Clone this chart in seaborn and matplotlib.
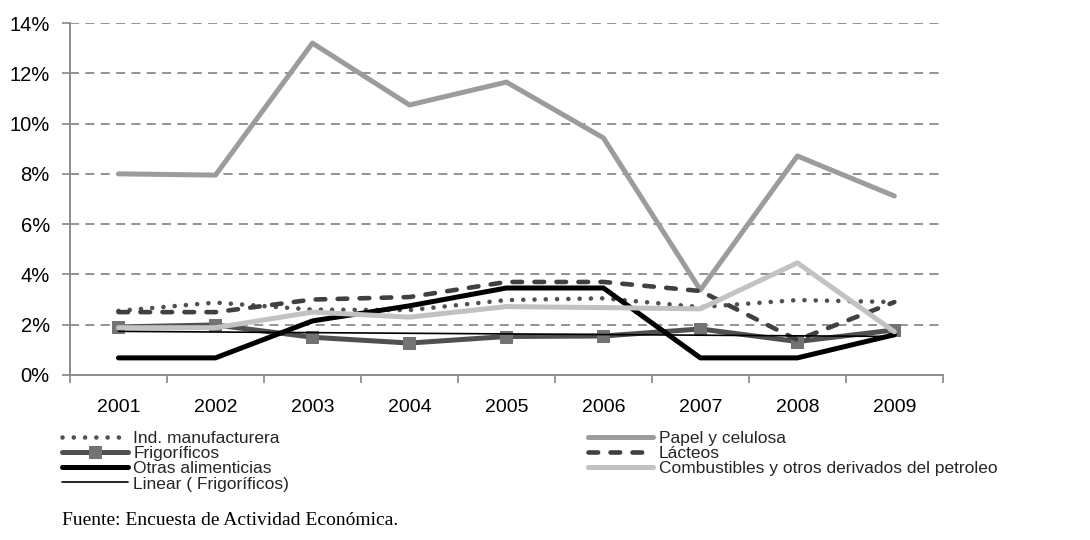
import numpy as np
import pandas as pd
import matplotlib
matplotlib.use("Agg")
import matplotlib.pyplot as plt
import seaborn as sns
from matplotlib.ticker import FixedLocator, FuncFormatter

years = [2001, 2002, 2003, 2004, 2005, 2006, 2007, 2008, 2009]

ind_manufacturera = [2.55, 2.88, 2.60, 2.58, 2.98, 3.05, 2.70, 2.98, 2.90]
papel_celulosa = [8.00, 7.95, 13.20, 10.74, 11.65, 9.43, 3.38, 8.71, 7.12]
frigorificos = [1.91, 1.99, 1.50, 1.27, 1.53, 1.55, 1.83, 1.33, 1.79]
lacteos = [2.50, 2.50, 3.00, 3.10, 3.70, 3.70, 3.34, 1.39, 2.90]
otras_alimenticias = [0.68, 0.68, 2.15, 2.75, 3.46, 3.46, 0.68, 0.68, 1.60]
combustibles = [1.88, 1.88, 2.50, 2.30, 2.72, 2.68, 2.63, 4.46, 1.72]

series_names = [
    "Ind. manufacturera",
    "Papel y celulosa",
    "Frigoríficos",
    "Lácteos",
    "Otras alimenticias",
    "Combustibles y otros derivados del petroleo",
]
series_values = [ind_manufacturera, papel_celulosa, frigorificos,
                 lacteos, otras_alimenticias, combustibles]
trend_label = "Linear ( Frigoríficos)"
source_note = "Fuente: Encuesta de Actividad Económica."

df = pd.DataFrame({
    "año": np.tile(years, len(series_names)),
    "serie": np.repeat(series_names, len(years)),
    "valor": np.concatenate(series_values),
})

styles = {
    "Ind. manufacturera": dict(color="#505050", lw=3.3, linestyle=(0, (0.01, 2.45)),
                               dash_capstyle="round", solid_capstyle="round"),
    "Papel y celulosa": dict(color="#9c9c9c", lw=3.6, solid_capstyle="round"),
    "Frigoríficos": dict(color="#505050", lw=3.6, marker="s", markersize=8,
                         markerfacecolor="#737373", markeredgecolor="#737373",
                         solid_capstyle="round"),
    "Lácteos": dict(color="#404040", lw=3.3, linestyle=(0, (2.1, 2.7)),
                    dash_capstyle="round"),
    "Otras alimenticias": dict(color="#000000", lw=3.6, solid_capstyle="round"),
    "Combustibles y otros derivados del petroleo": dict(color="#c2c2c2", lw=3.6,
                                                        solid_capstyle="round"),
}

sns.set_theme(style="white")
plt.rcParams["font.family"] = ["Liberation Sans", "DejaVu Sans"]

fig = plt.figure(figsize=(10.9, 5.4), dpi=100)
ax = fig.add_axes([0.0642, 0.3056, 0.8008, 0.6518])

handles = {}
for name in series_names:
    sub = df[df["serie"] == name]
    sns.lineplot(data=sub, x="año", y="valor", ax=ax, label=name,
                 legend=False, **styles[name])
    handles[name] = ax.get_lines()[-1]

# linear trend of Frigoríficos
coef = np.polyfit(years, frigorificos, 1)
trend = np.polyval(coef, years)
sns.lineplot(x=years, y=trend, ax=ax, color="black", lw=1.2, label=trend_label,
             legend=False)
handles[trend_label] = ax.get_lines()[-1]

ax.set_xlim(2000.5, 2009.5)
ax.set_ylim(0, 14)
ax.set_xlabel("")
ax.set_ylabel("")

ax.xaxis.set_major_locator(FixedLocator(years))
ax.xaxis.set_minor_locator(FixedLocator(np.arange(2000.5, 2010, 1.0)))
ax.set_xticklabels([str(y) for y in years])
ax.tick_params(axis="x", which="major", length=0, labelsize=14, pad=17,
               colors="black")
ax.tick_params(axis="x", which="minor", length=6, width=1.2, color="#868686",
               direction="out", bottom=True)

ax.yaxis.set_major_locator(FixedLocator(np.arange(0, 15, 2)))
ax.yaxis.set_major_formatter(FuncFormatter(lambda v, p: f"{v:.0f}%"))
ax.tick_params(axis="y", length=6, width=1.2, color="#868686", labelsize=14.5,
               left=True, pad=8.5, labelcolor="black")

ax.grid(False)
for v in np.arange(2, 15, 2):
    ax.axhline(v, color="#8a8a8a", lw=1.3, linestyle=(0, (5, 3.5)), zorder=0)

for side in ["top", "right"]:
    ax.spines[side].set_visible(False)
for side in ["left", "bottom"]:
    ax.spines[side].set_color("#868686")
    ax.spines[side].set_linewidth(1.3)

left_names = ["Ind. manufacturera", "Frigoríficos", "Otras alimenticias", trend_label]
right_names = ["Papel y celulosa", "Lácteos",
               "Combustibles y otros derivados del petroleo"]

leg_kw = dict(loc="upper left", frameon=False, fontsize=12.5, handlelength=3.8,
              handletextpad=0.3, labelspacing=0.0, borderpad=0, borderaxespad=0,
              numpoints=1)
leg1 = fig.legend([handles[n] for n in left_names], left_names,
                  bbox_to_anchor=(0.057, 0.202), **leg_kw)
leg2 = fig.legend([handles[n] for n in right_names], right_names,
                  bbox_to_anchor=(0.539, 0.202), **leg_kw)

fig.text(0.057, 0.028, source_note, family="Liberation Serif", fontsize=14,
         color="black")

fig.savefig("out.png", dpi=100)
